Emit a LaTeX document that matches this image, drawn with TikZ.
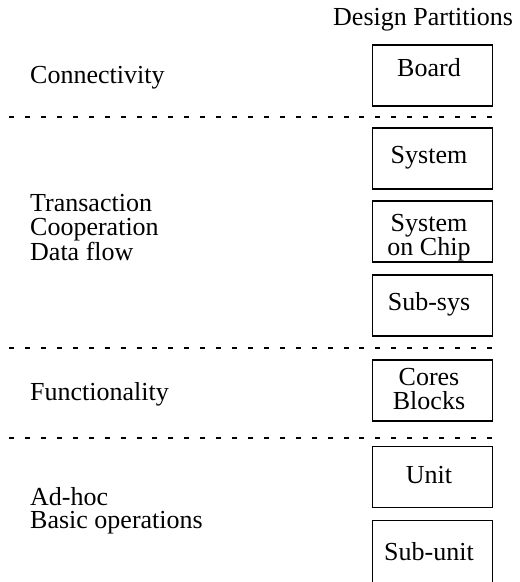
\documentclass[tikz,border=0pt]{standalone}
\usepackage{fontspec}
\setmainfont{Liberation Serif}
\begin{document}
\begin{tikzpicture}[x=1pt,y=-1pt,
  lbl/.style={inner sep=0pt, anchor=base west, font=\fontsize{26}{23}\selectfont},
  part/.style={draw, line width=1.2pt, minimum width=120pt, minimum height=61pt, inner sep=0pt},
  ptxt/.style={inner sep=0pt, anchor=base, font=\fontsize{26}{22}\selectfont},
  sepline/.style={line width=2.4pt, dash pattern=on 5pt off 10.92pt}]
\useasboundingbox (0,0) rectangle (520,582);
\clip (0,0) rectangle (520,582);

% header
\node[lbl] (hdr) at (333,25) {Design Partitions};

% left labels
\node[lbl] (conn) at (30,83) {Connectivity};
\node[lbl] (trans) at (30,211) {\begin{tabular}[t]{@{}l@{}}Transaction\\Cooperation\\Data flow\end{tabular}};
\node[lbl] (func) at (30,400) {Functionality};
\node[lbl, font=\fontsize{26}{22}\selectfont] (adhoc) at (30,505) {\begin{tabular}[t]{@{}l@{}}Ad-hoc\\Basic operations\end{tabular}};

% partition boxes
\node[part] (board) at (432.3,75.5) {};
\node[part] (sys) at (432.3,158.5) {};
\node[part] (soc) at (432.3,231.5) {};
\node[part] (subsys) at (432.3,305.5) {};
\node[part] (cores) at (432.3,390.5) {};
\node[part] (unit) at (432.3,477) {};
\node[part, minimum height=66pt] (subunit) at (432.3,553.7) {};

% box texts
\node[ptxt] (tboard) at (429,76.7) {Board};
\node[ptxt] (tsys) at (429,163.3) {System};
\node[ptxt] (tsoc) at (429,231) {\begin{tabular}[t]{@{}c@{}}System\\on Chip\end{tabular}};
\node[ptxt] (tsubsys) at (429,310) {Sub-sys};
\node[ptxt] (tcores) at (429,385) {\begin{tabular}[t]{@{}c@{}}Cores\\Blocks\end{tabular}};
\node[ptxt] (tunit) at (429,483.3) {Unit};
\node[ptxt] (tsubunit) at (429,560.7) {Sub-unit};

% separators
\coordinate (s1a) at (9.2,117);   \coordinate (s1b) at (492,117);
\coordinate (s2a) at (9.2,348);   \coordinate (s2b) at (492,348);
\coordinate (s3a) at (9.2,438);   \coordinate (s3b) at (492,438);
\draw[sepline] (s1a) -- (s1b);
\draw[sepline] (s2a) -- (s2b);
\draw[sepline] (s3a) -- (s3b);
\end{tikzpicture}
\end{document}
